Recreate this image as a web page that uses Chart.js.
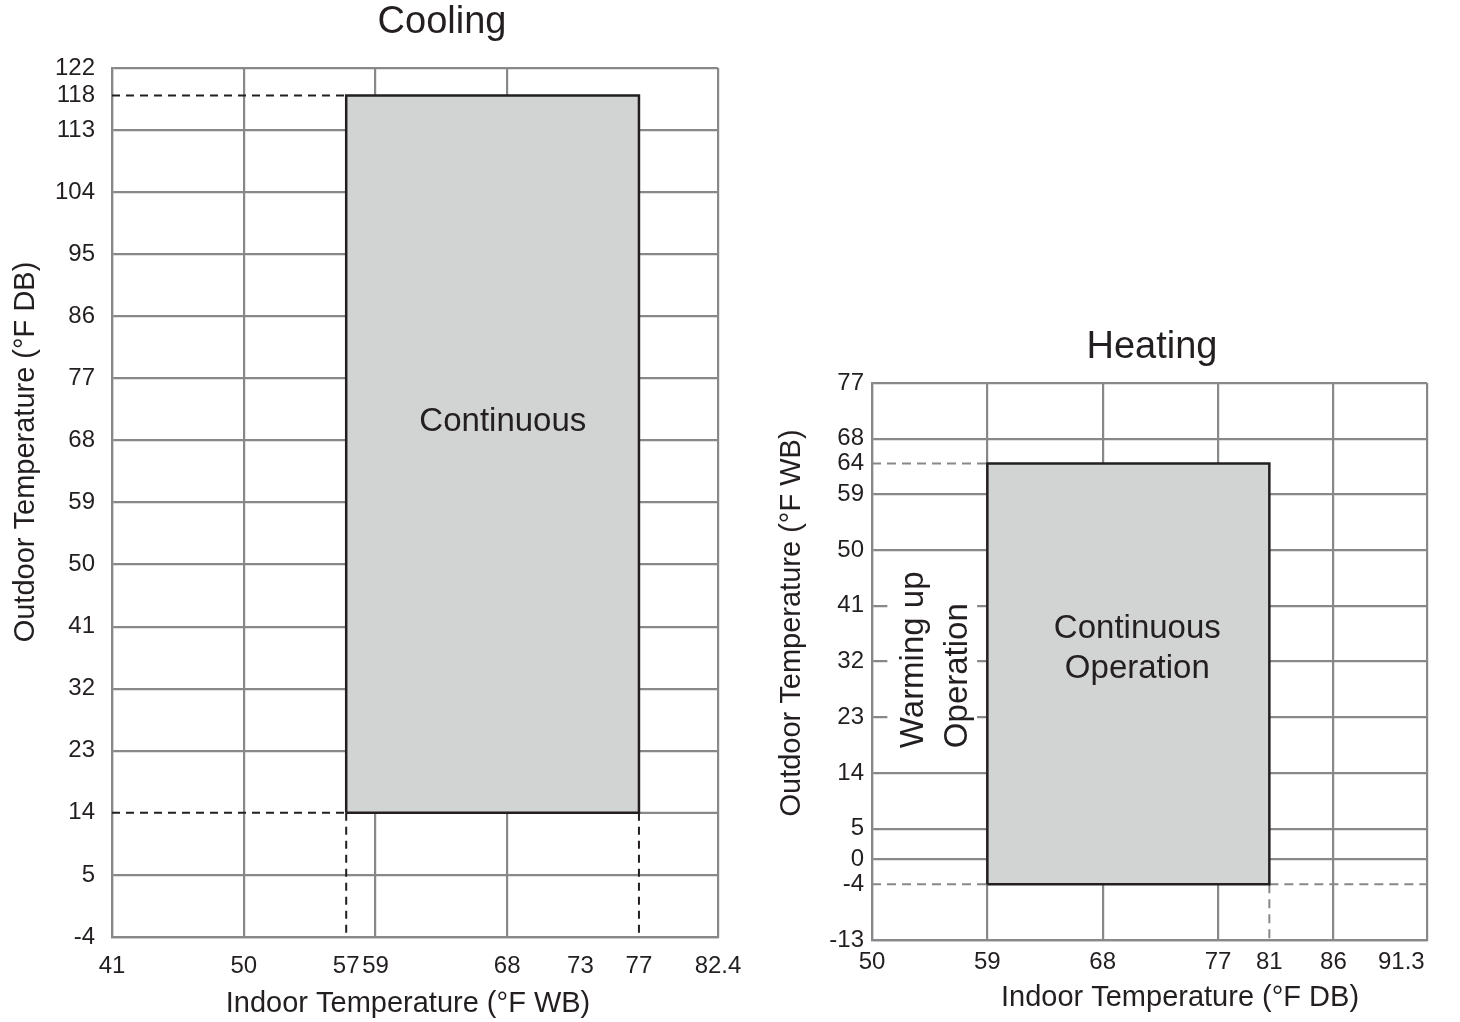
<!DOCTYPE html>
<html>
<head>
<meta charset="utf-8">
<script src="https://cdn.jsdelivr.net/npm/chart.js@4.4.0/dist/chart.umd.min.js"></script>
<style>
html, body { margin: 0; padding: 0; background: #fff; }
body { width: 1460px; height: 1022px; position: relative; overflow: hidden; }
#coolWrap { position: absolute; left: 0; top: 0; width: 760px; height: 1022px; }
#heatWrap { position: absolute; left: 760px; top: 0; width: 700px; height: 1022px; }
</style>
</head>
<body>
<div id="coolWrap"><canvas id="cooling"></canvas></div>
<div id="heatWrap"><canvas id="heating"></canvas></div>
<script>
// cooling: indoor WB vs outdoor DB
const coolXTicks = [41, 50, 57, 59, 68, 73, 77, 82.4];
const coolYTicks = [-4, 5, 14, 23, 32, 41, 50, 59, 68, 77, 86, 95, 104, 113, 118, 122];
const coolNoGridX = [57, 73, 77];
const coolNoGridY = [14, 118];
const coolIndoor = [57, 77];
const coolOutdoor = [14, 118];

// heating: indoor DB vs outdoor WB
const heatXTicks = [50, 59, 68, 77, 81, 86, 91.3];
const heatXEnd = 93.3;
const heatYTicks = [-13, -4, 0, 5, 14, 23, 32, 41, 50, 59, 64, 68, 77];
const heatNoGridX = [81, 91.3];
const heatNoGridY = [-4, 64];
const heatIndoor = [59, 81];
const heatOutdoor = [-4, 64];

const textColor = '#231f20';
const gridColor = '#86888a';
const fillColor = '#d2d3d3';
const fontFamily = '"Liberation Sans", Arial, Helvetica, sans-serif';

// draws titles and labels that sit at odd places in the original
const notesPlugin = {
    id: 'notes',
    afterDraw(chart, args, opts) {
        const ctx = chart.ctx;
        const xs = chart.scales.x, ys = chart.scales.y;
        (opts.boxes || []).forEach(b => {
            const x0 = xs.getPixelForValue(b.x0), x1 = xs.getPixelForValue(b.x1);
            const y0 = ys.getPixelForValue(b.y0), y1 = ys.getPixelForValue(b.y1);
            ctx.fillStyle = '#fff';
            ctx.fillRect(Math.min(x0, x1), Math.min(y0, y1), Math.abs(x1 - x0), Math.abs(y1 - y0));
        });
        (opts.items || []).forEach(it => {
            const px = it.data ? xs.getPixelForValue(it.x) : it.x;
            const py = it.data ? ys.getPixelForValue(it.y) : it.y;
            ctx.save();
            ctx.translate(px, py);
            if (it.rot) ctx.rotate(it.rot);
            ctx.font = it.size + 'px ' + fontFamily;
            ctx.fillStyle = textColor;
            ctx.textAlign = it.align || 'center';
            ctx.textBaseline = 'alphabetic';
            ctx.fillText(it.text, 0, 0);
            ctx.restore();
        });
    }
};

function makeScale(ticks, min, max, hidden, fit, pad) {
    return {
        type: 'linear',
        min: min,
        max: max,
        z: 1,
        afterBuildTicks: s => { s.ticks = ticks.map(v => ({ value: v })); },
        afterFit: fit,
        grid: {
            drawTicks: false,
            lineWidth: 2.2,
            color: c => (c.tick && hidden.includes(c.tick.value)) ? 'rgba(0,0,0,0)' : gridColor
        },
        border: { color: gridColor, width: 2.2 },
        ticks: {
            autoSkip: false,
            maxRotation: 0,
            padding: pad,
            color: textColor,
            font: { family: fontFamily, size: 24 },
            callback: v => ticks.includes(v) && v !== heatXEnd ? String(v) : ''
        }
    };
}

function seg(points, color, dash, width) {
    return {
        data: points,
        showLine: true,
        borderColor: color,
        borderWidth: width,
        borderDash: dash,
        borderJoinStyle: 'miter',
        pointRadius: 0,
        fill: false
    };
}

function box(xr, yr) {
    return [
        { x: xr[0], y: yr[0] }, { x: xr[0], y: yr[1] },
        { x: xr[1], y: yr[1] }, { x: xr[1], y: yr[0] }, { x: xr[0], y: yr[0] }
    ];
}

function baseOptions(layoutPad) {
    return {
        responsive: true,
        maintainAspectRatio: false,
        animation: false,
        layout: { padding: layoutPad },
        plugins: { legend: { display: false }, title: { display: false }, tooltip: { enabled: false } }
    };
}

// ---------- Cooling ----------
const coolMinX = coolXTicks[0], coolMaxX = coolXTicks[coolXTicks.length - 1];
const coolMinY = coolYTicks[0], coolMaxY = coolYTicks[coolYTicks.length - 1];
const coolOpts = baseOptions({ left: 0, top: 68, right: 42, bottom: 0 });
coolOpts.scales = {
    x: makeScale(coolXTicks, coolMinX, coolMaxX, coolNoGridX, s => { s.height = 85; }, 15),
    y: makeScale(coolYTicks, coolMinY, coolMaxY, coolNoGridY, s => { s.width = 112; }, 17)
};
coolOpts.plugins.notes = {
    items: [
        { text: 'Cooling', x: 442, y: 33, size: 38 },
        { text: 'Outdoor Temperature (°F DB)', x: 34, y: 452, size: 29, rot: -Math.PI / 2 },
        { text: 'Indoor Temperature (°F WB)', x: 408, y: 1012, size: 29 },
        { text: 'Continuous', x: 67.7, y: 69.4, size: 33, data: true }
    ]
};

new Chart(document.getElementById('cooling'), {
    type: 'scatter',
    data: {
        datasets: [
            seg(box(coolIndoor, coolOutdoor), textColor, [], 2.5),
            seg([{ x: coolMinX, y: coolOutdoor[1] }, { x: coolIndoor[0], y: coolOutdoor[1] }], textColor, [8, 6], 2),
            seg([{ x: coolMinX, y: coolOutdoor[0] }, { x: coolIndoor[0], y: coolOutdoor[0] }], textColor, [8, 6], 2),
            seg([{ x: coolIndoor[0], y: coolOutdoor[0] }, { x: coolIndoor[0], y: coolMinY }], textColor, [8, 6], 2),
            seg([{ x: coolIndoor[1], y: coolOutdoor[0] }, { x: coolIndoor[1], y: coolMinY }], textColor, [8, 6], 2),
            seg([{ x: coolIndoor[1], y: coolOutdoor[0] }, { x: coolMaxX, y: coolOutdoor[0] }], gridColor, [], 2.2),
            {
                data: [{ x: coolIndoor[0], y: coolOutdoor[1] }, { x: coolIndoor[1], y: coolOutdoor[1] }],
                showLine: true, pointRadius: 0, borderWidth: 0,
                backgroundColor: fillColor,
                fill: { value: coolOutdoor[0] }
            }
        ]
    },
    options: coolOpts,
    plugins: [notesPlugin]
});

// ---------- Heating ----------
const heatMinX = heatXTicks[0];
const heatMinY = heatYTicks[0], heatMaxY = heatYTicks[heatYTicks.length - 1];
const heatOpts = baseOptions({ left: 0, top: 383, right: 33, bottom: 0 });
heatOpts.scales = {
    x: makeScale(heatXTicks.concat([heatXEnd]), heatMinX, heatXEnd, heatNoGridX, s => { s.height = 82; }, 8),
    y: makeScale(heatYTicks, heatMinY, heatMaxY, heatNoGridY, s => { s.width = 112; }, 8)
};
heatOpts.plugins.notes = {
    boxes: [{ x0: 51.2, x1: 58.2, y0: 17.4, y1: 47.6 }],
    items: [
        { text: 'Heating', x: 392, y: 358, size: 38 },
        { text: 'Outdoor Temperature (°F WB)', x: 40, y: 623, size: 29, rot: -Math.PI / 2 },
        { text: 'Indoor Temperature (°F DB)', x: 420, y: 1006, size: 29 },
        { text: 'Continuous', x: 70.7, y: 35.8, size: 33, data: true },
        { text: 'Operation', x: 70.7, y: 29.3, size: 33, data: true },
        { text: 'Warming up', x: 53.97, y: 18.0, size: 33, data: true, rot: -Math.PI / 2, align: 'left' },
        { text: 'Operation', x: 57.4, y: 18.0, size: 33, data: true, rot: -Math.PI / 2, align: 'left' }
    ]
};

new Chart(document.getElementById('heating'), {
    type: 'scatter',
    data: {
        datasets: [
            seg(box(heatIndoor, heatOutdoor), textColor, [], 2.5),
            seg([{ x: heatMinX, y: heatOutdoor[1] }, { x: heatIndoor[0], y: heatOutdoor[1] }], gridColor, [9, 6], 2),
            seg([{ x: heatMinX, y: heatOutdoor[0] }, { x: heatIndoor[0], y: heatOutdoor[0] }], gridColor, [9, 6], 2),
            seg([{ x: heatIndoor[1], y: heatOutdoor[0] }, { x: heatXEnd, y: heatOutdoor[0] }], gridColor, [9, 6], 2),
            seg([{ x: heatIndoor[1], y: heatOutdoor[0] }, { x: heatIndoor[1], y: heatMinY }], gridColor, [9, 6], 2),
            {
                data: [{ x: heatIndoor[0], y: heatOutdoor[1] }, { x: heatIndoor[1], y: heatOutdoor[1] }],
                showLine: true, pointRadius: 0, borderWidth: 0,
                backgroundColor: fillColor,
                fill: { value: heatOutdoor[0] }
            }
        ]
    },
    options: heatOpts,
    plugins: [notesPlugin]
});
</script>
</body>
</html>
